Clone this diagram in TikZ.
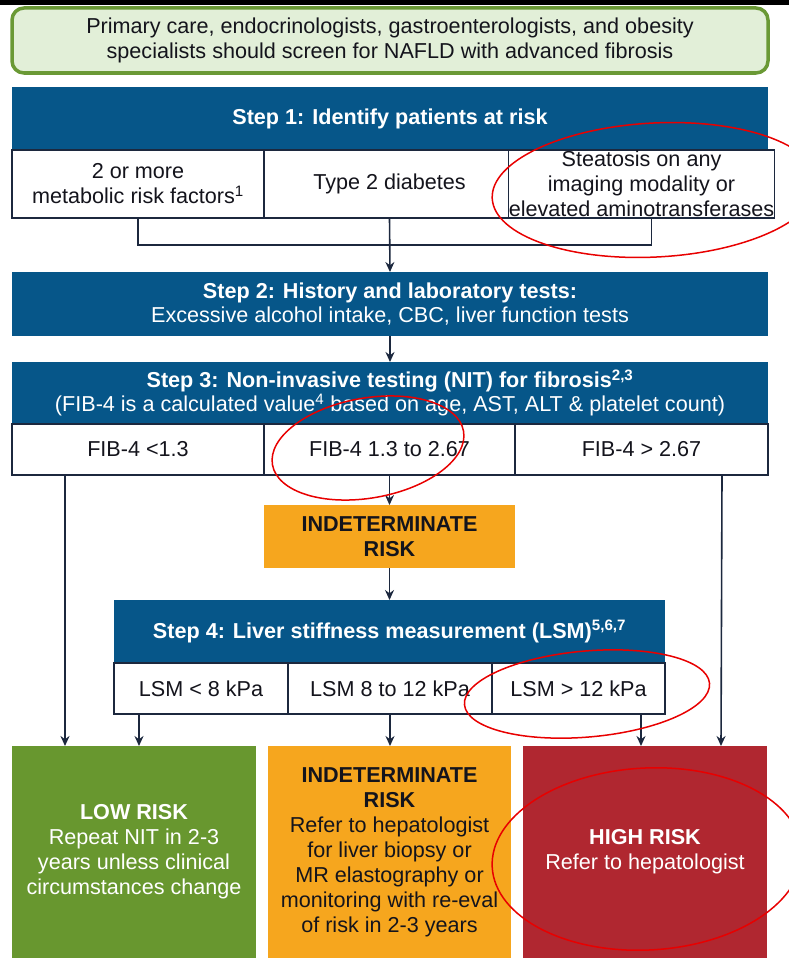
\documentclass[tikz,border=0pt]{standalone}
\usepackage{fontspec}
\setmainfont{Liberation Sans}
\usepackage{tikz}
\usetikzlibrary{arrows.meta,positioning}

\definecolor{stepblue}{RGB}{6,86,137}
\definecolor{linecol}{RGB}{28,40,62}
\definecolor{textcol}{RGB}{20,20,28}
\definecolor{screenfill}{RGB}{226,239,216}
\definecolor{screenedge}{RGB}{106,153,53}
\definecolor{lowgreen}{RGB}{104,151,47}
\definecolor{midorange}{RGB}{246,166,30}
\definecolor{highred}{RGB}{176,39,48}
\definecolor{annored}{RGB}{232,0,0}

\begin{document}
\begin{tikzpicture}[x=1pt,y=-1pt,>={Stealth[length=10pt,width=9pt]},
    every node/.style={font=\fontsize{21.6}{25}\selectfont,inner sep=0pt,outer sep=0pt},
    header/.style={fill=stepblue,text=white,align=center,font=\fontsize{21.6}{24}\selectfont},
    cell/.style={draw=linecol,line width=1.3pt,fill=white,text=textcol,align=center},
    outcome/.style={align=center,minimum height=212},
    link/.style={draw=linecol,line width=1.6pt},
    ring/.style={draw=annored,line width=1.5pt}]
    \path[use as bounding box,clip] (0,0) rectangle (789,958);
    \fill[black] (0,0) rectangle (789,5);

    \node[draw=screenedge,line width=3.5pt,fill=screenfill,rounded corners=12pt,
      minimum width=756,minimum height=65,align=center,text=textcol] (screen) at (390,40.5)
      {Primary care, endocrinologists, gastroenterologists, and obesity\\specialists should screen for NAFLD with advanced fibrosis};

    % step 1
    \node[header,minimum width=756,minimum height=63] (step1) at (390,118.5) {\textbf{Step 1: Identify patients at risk}};
    \node[cell,minimum width=252,minimum height=68] (risk1) at (138,184) {2 or more\\metabolic risk factors\textsuperscript{1}};
    \node[cell,minimum width=251,minimum height=68] (risk2) at (389.5,184) {Type 2 diabetes};
    \node[cell,minimum width=253,minimum height=68] (risk3) at (641.5,184) {Steatosis on any\\imaging modality or\\elevated aminotransferases};
    \coordinate (join) at (390,245);

    % step 2
    \node[header,minimum width=756,minimum height=64] (step2) at (390,304)
      {\textbf{Step 2: History and laboratory tests:}\\Excessive alcohol intake, CBC, liver function tests};

    % step 3
    \node[header,minimum width=756,minimum height=62] (step3) at (390,393)
      {\textbf{Step 3: Non-invasive testing (NIT) for fibrosis\textsuperscript{2,3}}\\(FIB-4 is a calculated value\textsuperscript{4} based on age, AST, ALT \& platelet count)};
    \node[cell,minimum width=252,minimum height=51] (fib1) at (138,449.5) {FIB-4 <1.3};
    \node[cell,minimum width=251,minimum height=51] (fib2) at (389.5,449.5) {FIB-4 1.3 to 2.67};
    \node[cell,minimum width=253,minimum height=51] (fib3) at (641.5,449.5) {FIB-4 > 2.67};

    \node[fill=midorange,text=textcol,align=center,minimum width=251,minimum height=63] (indet) at (389.5,536.5)
      {\textbf{INDETERMINATE}\\\textbf{RISK}};

    % step 4
    \node[header,minimum width=551,minimum height=63] (step4) at (389.5,631.5)
      {\textbf{Step 4: Liver stiffness measurement (LSM)\textsuperscript{5,6,7}}};
    \node[cell,minimum width=174,minimum height=51] (lsm1) at (201,688.5) {LSM < 8 kPa};
    \node[cell,minimum width=204,minimum height=51] (lsm2) at (390,688.5) {LSM 8 to 12 kPa};
    \node[cell,minimum width=173,minimum height=51] (lsm3) at (578.5,688.5) {LSM > 12 kPa};

    % outcomes
    \node[outcome,fill=lowgreen,text=white,minimum width=244] (low) at (134,852)
      {\textbf{LOW RISK}\\Repeat NIT in 2-3\\years unless clinical\\circumstances change};
    \node[outcome,fill=midorange,text=textcol,minimum width=243] (mid) at (389.5,852)
      {\textbf{INDETERMINATE}\\\textbf{RISK}\\Refer to hepatologist\\for liver biopsy or\\MR elastography or\\monitoring with re-eval\\of risk in 2-3 years};
    \node[outcome,fill=highred,text=white,minimum width=244] (high) at (645,852)
      {\textbf{HIGH RISK}\\Refer to hepatologist};

    \draw[link] (risk1.south) |- (join) -| ([xshift=10pt]risk3.south);
    \draw[link,->] (risk2.south) -- (step2.north);
    \draw[link,->] (step2.south) -- (step3.north);
    \draw[link,->] (fib2.south) -- (indet.north);
    \draw[link,->] (indet.south) -- (step4.north);
    \draw[link,->] ([xshift=53pt]fib1.south west) -- ([xshift=53pt]low.north west);
    \draw[link,->] ([xshift=-46pt]fib3.south east) -- ([xshift=-46pt]high.north east);
    \draw[link,->] ([xshift=25pt]lsm1.south west) -- ([xshift=25pt]lsm1.south west |- low.north);
    \draw[link,->] (lsm2.south) -- (lsm2.south |- mid.north);
    \draw[link,->] ([xshift=-24pt]lsm3.south east) -- ([xshift=-24pt]lsm3.south east |- high.north);

    % red rings
    \draw[ring,rotate around={3:(655,190)}] (655,190) ellipse [x radius=163,y radius=67];
    \draw[ring,rotate around={10:(368,448)}] (368,448) ellipse [x radius=97,y radius=50];
    \draw[ring,rotate around={5:(587,694)}] (587,694) ellipse [x radius=123,y radius=43];
    \draw[ring,rotate around={3:(647,859)}] (647,859) ellipse [x radius=155,y radius=91];
\end{tikzpicture}
\end{document}
